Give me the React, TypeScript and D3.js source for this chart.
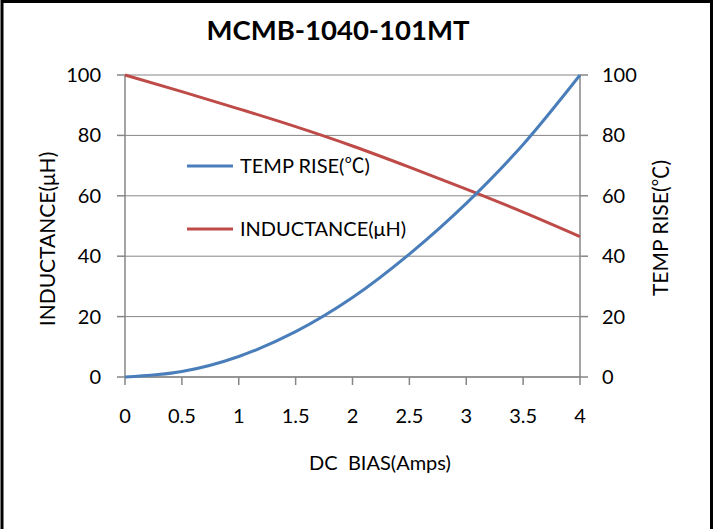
import React from "react";
import * as d3 from "d3";

const dcBias = [0, 0.5, 1, 1.5, 2, 2.5, 3, 3.5, 4];
const tempRise = [0, 1.8, 6.8, 15, 26.3, 40.7, 57.5, 77, 100];
const inductance = [100, 94.5, 88.8, 82.9, 76.5, 69.5, 62.2, 54.6, 46.5];
const xTicks = [0, 0.5, 1, 1.5, 2, 2.5, 3, 3.5, 4];
const yTicks = [0, 20, 40, 60, 80, 100];
const title = "MCMB-1040-101MT";
const xTitle = "DC  BIAS(Amps)";
const yLeftTitle = "INDUCTANCE(μH)";
const yRightTitle = ["TEMP RISE(", "℃", ")"];
const legendItems = [["TEMP RISE(", "℃", ")"], ["INDUCTANCE(μH)"]];

const W = 715;
const H = 529;
const left = 125;
const right = 580;
const top = 75;
const bottom = 377;
const BLUE = "#4A7EBB";
const RED = "#BE4B48";
const AXIS = "#868686";
const FONT = "Lato, 'Open Sans', sans-serif";
const CJK = "'Noto Sans CJK SC', sans-serif";

function Parts({ parts }: { parts: string[] }) {
  return (
    <>
      {parts.map((p, i) =>
        p === "℃" ? (
          <tspan key={i} fontFamily={CJK}>
            {p}
          </tspan>
        ) : (
          <tspan key={i}>{p}</tspan>
        )
      )}
    </>
  );
}

export default function App() {
  const x = d3.scaleLinear().domain([0, 4]).range([left, right]);
  const yL = d3.scaleLinear().domain([0, 100]).range([bottom, top]);
  const yR = d3.scaleLinear().domain([0, 100]).range([bottom, top]);

  const tempLine = d3
    .line<number>()
    .x((_, i) => x(dcBias[i]))
    .y((d) => yR(d))
    .curve(d3.curveMonotoneX)(tempRise) as string;
  const indLine = d3
    .line<number>()
    .x((_, i) => x(dcBias[i]))
    .y((d) => yL(d))
    .curve(d3.curveMonotoneX)(inductance) as string;

  return (
    <svg
      width={W}
      height={H}
      style={{ position: "absolute", left: 0, top: 0, background: "#fff" }}
      fontFamily={FONT}
    >
      <rect x={0} y={0} width={W} height={H} fill="#fff" />
      <rect x={2} y={1.5} width={709.5} height={H + 20} fill="none" stroke="#000" strokeWidth={3} />
      <text x={338} y={40} textAnchor="middle" fontSize={27.5} fontWeight="bold" fill="#000">
        {title}
      </text>

      {/* gridlines */}
      {yTicks.map((t) => (
        <line key={"g" + t} x1={left} x2={right} y1={yL(t)} y2={yL(t)} stroke={AXIS} strokeWidth={1} />
      ))}
      {/* axes */}
      <line x1={left} x2={left} y1={top} y2={bottom} stroke={AXIS} strokeWidth={1.5} />
      <line x1={right} x2={right} y1={top} y2={bottom} stroke={AXIS} strokeWidth={1.5} />
      <line x1={left} x2={right} y1={bottom} y2={bottom} stroke={AXIS} strokeWidth={1.5} />
      {yTicks.map((t) => (
        <g key={"yt" + t}>
          <line x1={left - 8} x2={left} y1={yL(t)} y2={yL(t)} stroke={AXIS} strokeWidth={1.5} />
          <line x1={right} x2={right + 8} y1={yR(t)} y2={yR(t)} stroke={AXIS} strokeWidth={1.5} />
          <text x={101} y={yL(t)} dy="0.35em" textAnchor="end" fontSize={20} fill="#000">
            {t}
          </text>
          <text x={602} y={yR(t)} dy="0.35em" textAnchor="start" fontSize={20} fill="#000">
            {t}
          </text>
        </g>
      ))}
      {xTicks.map((t) => (
        <g key={"xt" + t}>
          <line x1={x(t)} x2={x(t)} y1={bottom} y2={bottom + 8} stroke={AXIS} strokeWidth={1.5} />
          <text x={x(t)} y={416} dy="0.35em" textAnchor="middle" fontSize={20} fill="#000">
            {t}
          </text>
        </g>
      ))}

      {/* axis titles */}
      <text x={380} y={470} textAnchor="middle" fontSize={20} fill="#000" style={{ whiteSpace: "pre" }}>
        {xTitle}
      </text>
      <text transform={`translate(55,239) rotate(-90)`} textAnchor="middle" fontSize={21} fill="#000">
        {yLeftTitle}
      </text>
      <text transform={`translate(668,228) rotate(-90)`} textAnchor="middle" fontSize={21} fill="#000">
        <Parts parts={yRightTitle} />
      </text>

      {/* lines */}
      <path d={indLine} fill="none" stroke={RED} strokeWidth={3} />
      <path d={tempLine} fill="none" stroke={BLUE} strokeWidth={3} />

      {/* legend */}
      {legendItems.map((parts, i) => {
        const ly = 166 + i * 63;
        return (
          <g key={i}>
            <line x1={187} x2={233} y1={ly} y2={ly} stroke={i === 0 ? BLUE : RED} strokeWidth={3} />
            <text x={240} y={ly} dy="0.35em" fontSize={20} fill="#000">
              <Parts parts={parts} />
            </text>
          </g>
        );
      })}
    </svg>
  );
}
